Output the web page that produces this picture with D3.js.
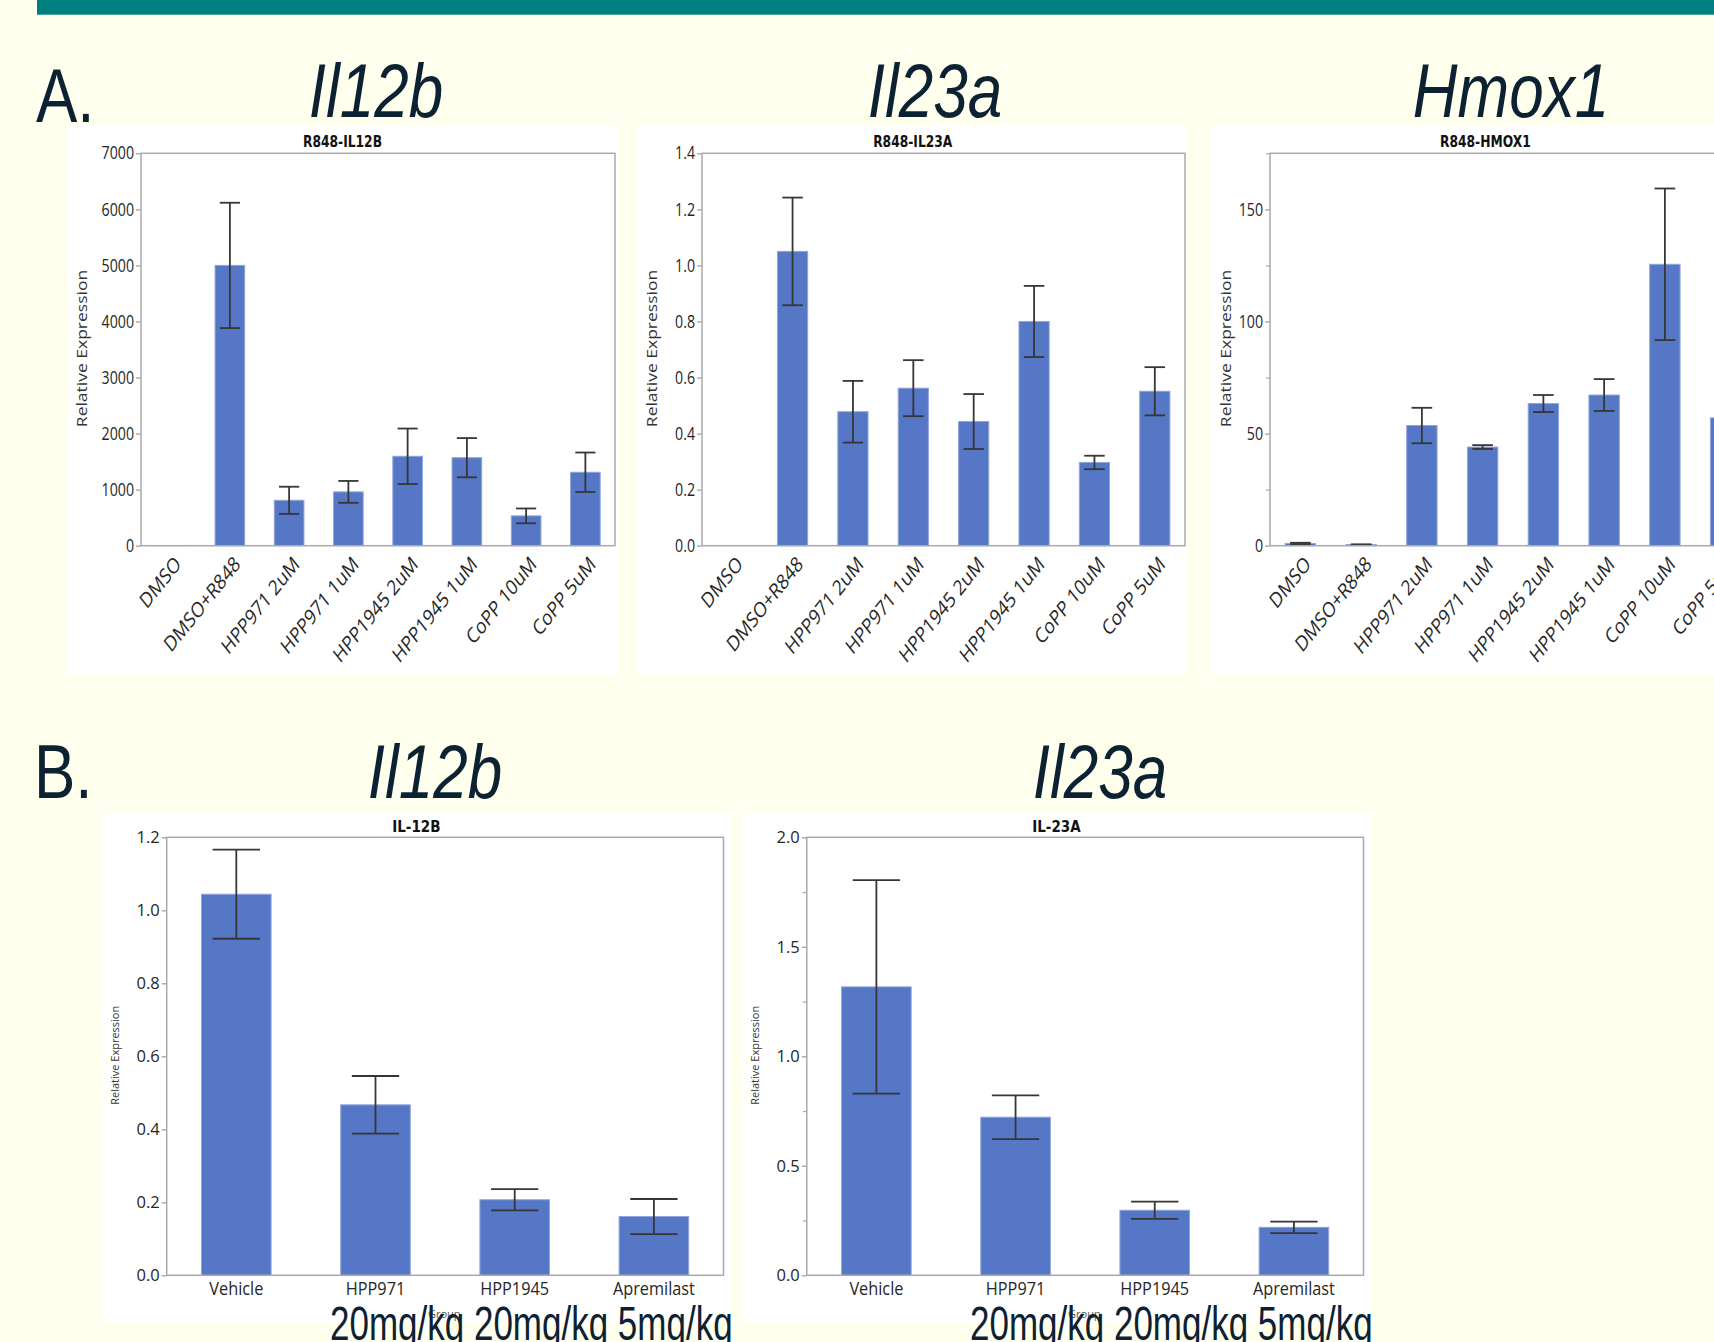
<!DOCTYPE html>
<html>
<head>
<meta charset="utf-8">
<script src="https://cdn.jsdelivr.net/npm/d3@7"></script>
<style>
  html, body { margin: 0; padding: 0; background: #ffffee; overflow: hidden; }
  svg { display: block; }
</style>
</head>
<body>
<svg id="fig" width="1714" height="1342"></svg>
<script>
// ---------- data ----------
// A: cultured cells stimulated with R848 (relative expression, mean and SEM)
const cellGroups = ["DMSO", "DMSO+R848", "HPP971 2uM", "HPP971 1uM",
                    "HPP1945 2uM", "HPP1945 1uM", "CoPP 10uM", "CoPP 5uM"];

const il12bCellMean = [1, 5000, 810, 960, 1595, 1570, 532, 1310];
const il12bCellSem  = [0, 1118, 242, 195, 495, 350, 132, 352];
const il12bCellTicks = [0, 1000, 2000, 3000, 4000, 5000, 6000, 7000];

const il23aCellMean = [0, 1.05, 0.478, 0.562, 0.443, 0.80, 0.297, 0.551];
const il23aCellSem  = [0, 0.192, 0.110, 0.100, 0.098, 0.127, 0.024, 0.086];
const il23aCellTicks = [0, 0.2, 0.4, 0.6, 0.8, 1.0, 1.2, 1.4];

const hmox1CellMean = [1.0, 0.5, 53.6, 44.0, 63.4, 67.2, 125.5, 57.0];
const hmox1CellSem  = [0.3, 0.1, 7.9, 0.85, 3.8, 7.1, 33.8, 0];
const hmox1CellTicks = [0, 50, 100, 150];
const hmox1CellMinor = [25, 75, 125, 175];

// B: in vivo treatment groups
const mouseGroups = ["Vehicle", "HPP971", "HPP1945", "Apremilast"];

const il12bMouseMean = [1.044, 0.467, 0.207, 0.161];
const il12bMouseSem  = [0.122, 0.079, 0.029, 0.048];
const il12bMouseTicks = [0, 0.2, 0.4, 0.6, 0.8, 1.0, 1.2];

const il23aMouseMean = [1.317, 0.722, 0.297, 0.219];
const il23aMouseSem  = [0.487, 0.100, 0.039, 0.026];
const il23aMouseTicks = [0, 0.5, 1.0, 1.5, 2.0];
const il23aMouseMinor = [0.25, 0.75, 1.25, 1.75];

const doseText = "20mg/kg 20mg/kg 5mg/kg";
const yTitle = "Relative Expression";
const xTitle = "Group";

// ---------- styling ----------
const BG = "#ffffee";
const HEAD = "#0c2233";
const BAR = "#5577c6";
const BAR_EDGE = "#8ea5dc";
const ERR = "#363636";
const FRAME = "#a9a9a9";
const TXT = "#262626";
const SANS = "'Open Sans', 'Noto Sans', sans-serif";
const BOLD = "'DejaVu Sans', sans-serif";
const ARIAL = "'Liberation Sans', Arial, sans-serif";

const svg = d3.select("#fig");
svg.append("rect").attr("width", 1714).attr("height", 1342).attr("fill", BG);
// header band
svg.append("rect").attr("x", 37).attr("y", 0).attr("width", 1677).attr("height", 14.7).attr("fill", "#007f7f");

function heading(x, y, txt, italic, anchor) {
  svg.append("text")
    .attr("transform", `translate(${x},${y}) scale(1,1.24)`)
    .attr("text-anchor", anchor)
    .attr("font-family", ARIAL)
    .attr("font-size", 62)
    .attr("font-style", italic ? "italic" : "normal")
    .attr("fill", HEAD)
    .text(txt);
}

heading(36, 121.6, "A.", false, "start");
heading(376, 117.3, "Il12b", true, "middle");
heading(935, 117.3, "Il23a", true, "middle");
heading(1511, 117.3, "Hmox1", true, "middle");

heading(34, 798.3, "B.", false, "start");
heading(435, 798.3, "Il12b", true, "middle");
heading(1100, 798.3, "Il23a", true, "middle");

function drawPanel(p) {
  const g = svg.append("g");
  const [bx0, by0, bx1, by1] = p.box;
  const [L, T, R, B] = p.plot;
  g.append("rect").attr("x", bx0).attr("y", by0)
    .attr("width", bx1 - bx0).attr("height", by1 - by0).attr("fill", "#ffffff");

  const x = d3.scaleBand().domain(p.groups).range([L, R]).paddingInner(0.5).paddingOuter(0.25);
  const y = d3.scaleLinear().domain([0, p.max]).range([B, T]);
  const bw = x.bandwidth();

  // panel title
  g.append("text")
    .attr("transform", `translate(${(bx0 + bx1) / 2},${p.titleY}) scale(1,${p.titleSy})`)
    .attr("text-anchor", "middle")
    .attr("font-family", BOLD).attr("font-weight", "bold")
    .attr("font-size", p.titleSize).attr("fill", "#111")
    .text(p.title);

  // minor ticks
  if (p.minor && p.minor.length) {
    const mg = g.append("g").attr("transform", `translate(${L},0)`)
      .call(d3.axisLeft(y).tickValues(p.minor).tickSize(4).tickFormat(""));
    mg.select(".domain").remove();
    mg.selectAll("line").attr("stroke", FRAME).attr("stroke-width", 1.2);
  }

  // major ticks and labels
  const ag = g.append("g").attr("transform", `translate(${L},0)`)
    .call(d3.axisLeft(y).tickValues(p.ticks).tickSize(5).tickPadding(2).tickFormat(p.fmt));
  ag.select(".domain").remove();
  ag.selectAll("line").attr("stroke", FRAME).attr("stroke-width", 1.4);
  ag.selectAll("text")
    .attr("font-family", SANS).attr("font-size", p.tickSize).attr("fill", TXT)
    .attr("transform", `scale(1,${p.tickSy})`);

  // y-axis title
  g.append("text")
    .attr("transform", `translate(${bx0 + p.yTitleDx},${(T + B) / 2 - 1}) scale(1,${p.yTitleSy}) rotate(-90)`)
    .attr("text-anchor", "middle").attr("dominant-baseline", "central")
    .attr("font-family", SANS).attr("font-size", p.yTitleSize).attr("fill", "#333")
    .text(yTitle);

  const rows = p.groups.map((k, i) => ({ k, v: p.mean[i], e: p.sem[i] }));

  // bars
  g.selectAll("rect.bar").data(rows.filter(d => d.v > 0)).join("rect")
    .attr("class", "bar")
    .attr("x", d => x(d.k)).attr("width", bw)
    .attr("y", d => y(d.v)).attr("height", d => y(0) - y(d.v))
    .attr("fill", BAR).attr("stroke", BAR_EDGE).attr("stroke-width", 1);

  // error bars (mean +/- SEM)
  const eb = g.selectAll("g.err").data(rows.filter(d => d.e > 0)).join("g").attr("class", "err")
    .attr("stroke", ERR).attr("stroke-width", 1.8).attr("fill", "none");
  const cap = bw * 0.34;
  eb.append("line")
    .attr("x1", d => x(d.k) + bw / 2).attr("x2", d => x(d.k) + bw / 2)
    .attr("y1", d => y(d.v + d.e)).attr("y2", d => y(Math.max(0, d.v - d.e)));
  eb.append("line")
    .attr("x1", d => x(d.k) + bw / 2 - cap).attr("x2", d => x(d.k) + bw / 2 + cap)
    .attr("y1", d => y(d.v + d.e)).attr("y2", d => y(d.v + d.e));
  eb.append("line")
    .attr("x1", d => x(d.k) + bw / 2 - cap).attr("x2", d => x(d.k) + bw / 2 + cap)
    .attr("y1", d => y(Math.max(0, d.v - d.e))).attr("y2", d => y(Math.max(0, d.v - d.e)));

  // plot frame
  g.append("rect").attr("x", L).attr("y", T).attr("width", R - L).attr("height", B - T)
    .attr("fill", "none").attr("stroke", FRAME).attr("stroke-width", 1.5);

  // category labels
  if (p.rotated) {
    g.selectAll("text.xl").data(p.groups).join("text").attr("class", "xl")
      .attr("transform", k => `translate(${x(k) + bw / 2 + 3},${B + 9}) scale(1,1.25) rotate(-45)`)
      .attr("text-anchor", "end").attr("dy", "0.71em")
      .attr("font-family", SANS).attr("font-size", p.xSize).attr("fill", TXT)
      .text(k => k);
  } else {
    g.selectAll("text.xl").data(p.groups).join("text").attr("class", "xl")
      .attr("transform", k => `translate(${x(k) + bw / 2},${B + 20}) scale(1,1.1)`)
      .attr("text-anchor", "middle")
      .attr("font-family", SANS).attr("font-size", p.xSize).attr("fill", TXT)
      .text(k => k);
    g.append("text")
      .attr("x", bx0 + 342).attr("y", B + 43)
      .attr("text-anchor", "middle")
      .attr("font-family", SANS).attr("font-size", 11).attr("fill", "#555")
      .text(xTitle);
  }
}

const fmtInt = d3.format("d");
const fmt1 = d3.format(".1f");

const rowA = { titleY: 146.5, titleSy: 1.22, titleSize: 12.3, tickSize: 14.2, tickSy: 1.25,
               yTitleDx: 14.5, yTitleSy: 1.25, yTitleSize: 14, xSize: 17, rotated: true };
const rowB = { titleY: 832, titleSy: 1.12, titleSize: 13.5, tickSize: 16.5, tickSy: 1.0,
               yTitleDx: 12.5, yTitleSy: 1.0, yTitleSize: 11, xSize: 16.3, rotated: false };

drawPanel(Object.assign({}, rowA, {
  title: "R848-IL12B", groups: cellGroups, mean: il12bCellMean, sem: il12bCellSem,
  ticks: il12bCellTicks, max: 7000, fmt: fmtInt,
  box: [67, 125, 618, 676], plot: [141, 153.3, 615, 545.7]
}));
drawPanel(Object.assign({}, rowA, {
  title: "R848-IL23A", groups: cellGroups, mean: il23aCellMean, sem: il23aCellSem,
  ticks: il23aCellTicks, max: 1.4, fmt: fmt1,
  box: [637.5, 125, 1188, 676], plot: [702, 153.3, 1185, 545.7]
}));
drawPanel(Object.assign({}, rowA, {
  title: "R848-HMOX1", groups: cellGroups, mean: hmox1CellMean, sem: hmox1CellSem,
  ticks: hmox1CellTicks, minor: hmox1CellMinor, max: 175, fmt: fmtInt,
  box: [1210.7, 125, 1760, 676], plot: [1270, 153.3, 1756, 545.7]
}));

drawPanel(Object.assign({}, rowB, {
  title: "IL-12B", groups: mouseGroups, mean: il12bMouseMean, sem: il12bMouseSem,
  ticks: il12bMouseTicks, max: 1.2, fmt: fmt1,
  box: [102.3, 813.3, 730.5, 1322.5], plot: [166.7, 837.3, 723.5, 1275.3]
}));
drawPanel(Object.assign({}, rowB, {
  title: "IL-23A", groups: mouseGroups, mean: il23aMouseMean, sem: il23aMouseSem,
  ticks: il23aMouseTicks, minor: il23aMouseMinor, max: 2.0, fmt: fmt1,
  box: [742.4, 813.3, 1370.5, 1322.5], plot: [806.8, 837.3, 1363.5, 1275.3]
}));

// dose annotation under each group axis
[330, 970].forEach(x0 => {
  svg.append("text")
    .attr("transform", `translate(${x0},1340) scale(1,1.36)`)
    .attr("font-family", ARIAL).attr("font-size", 35).attr("fill", HEAD)
    .text(doseText);
});
</script>
</body>
</html>
